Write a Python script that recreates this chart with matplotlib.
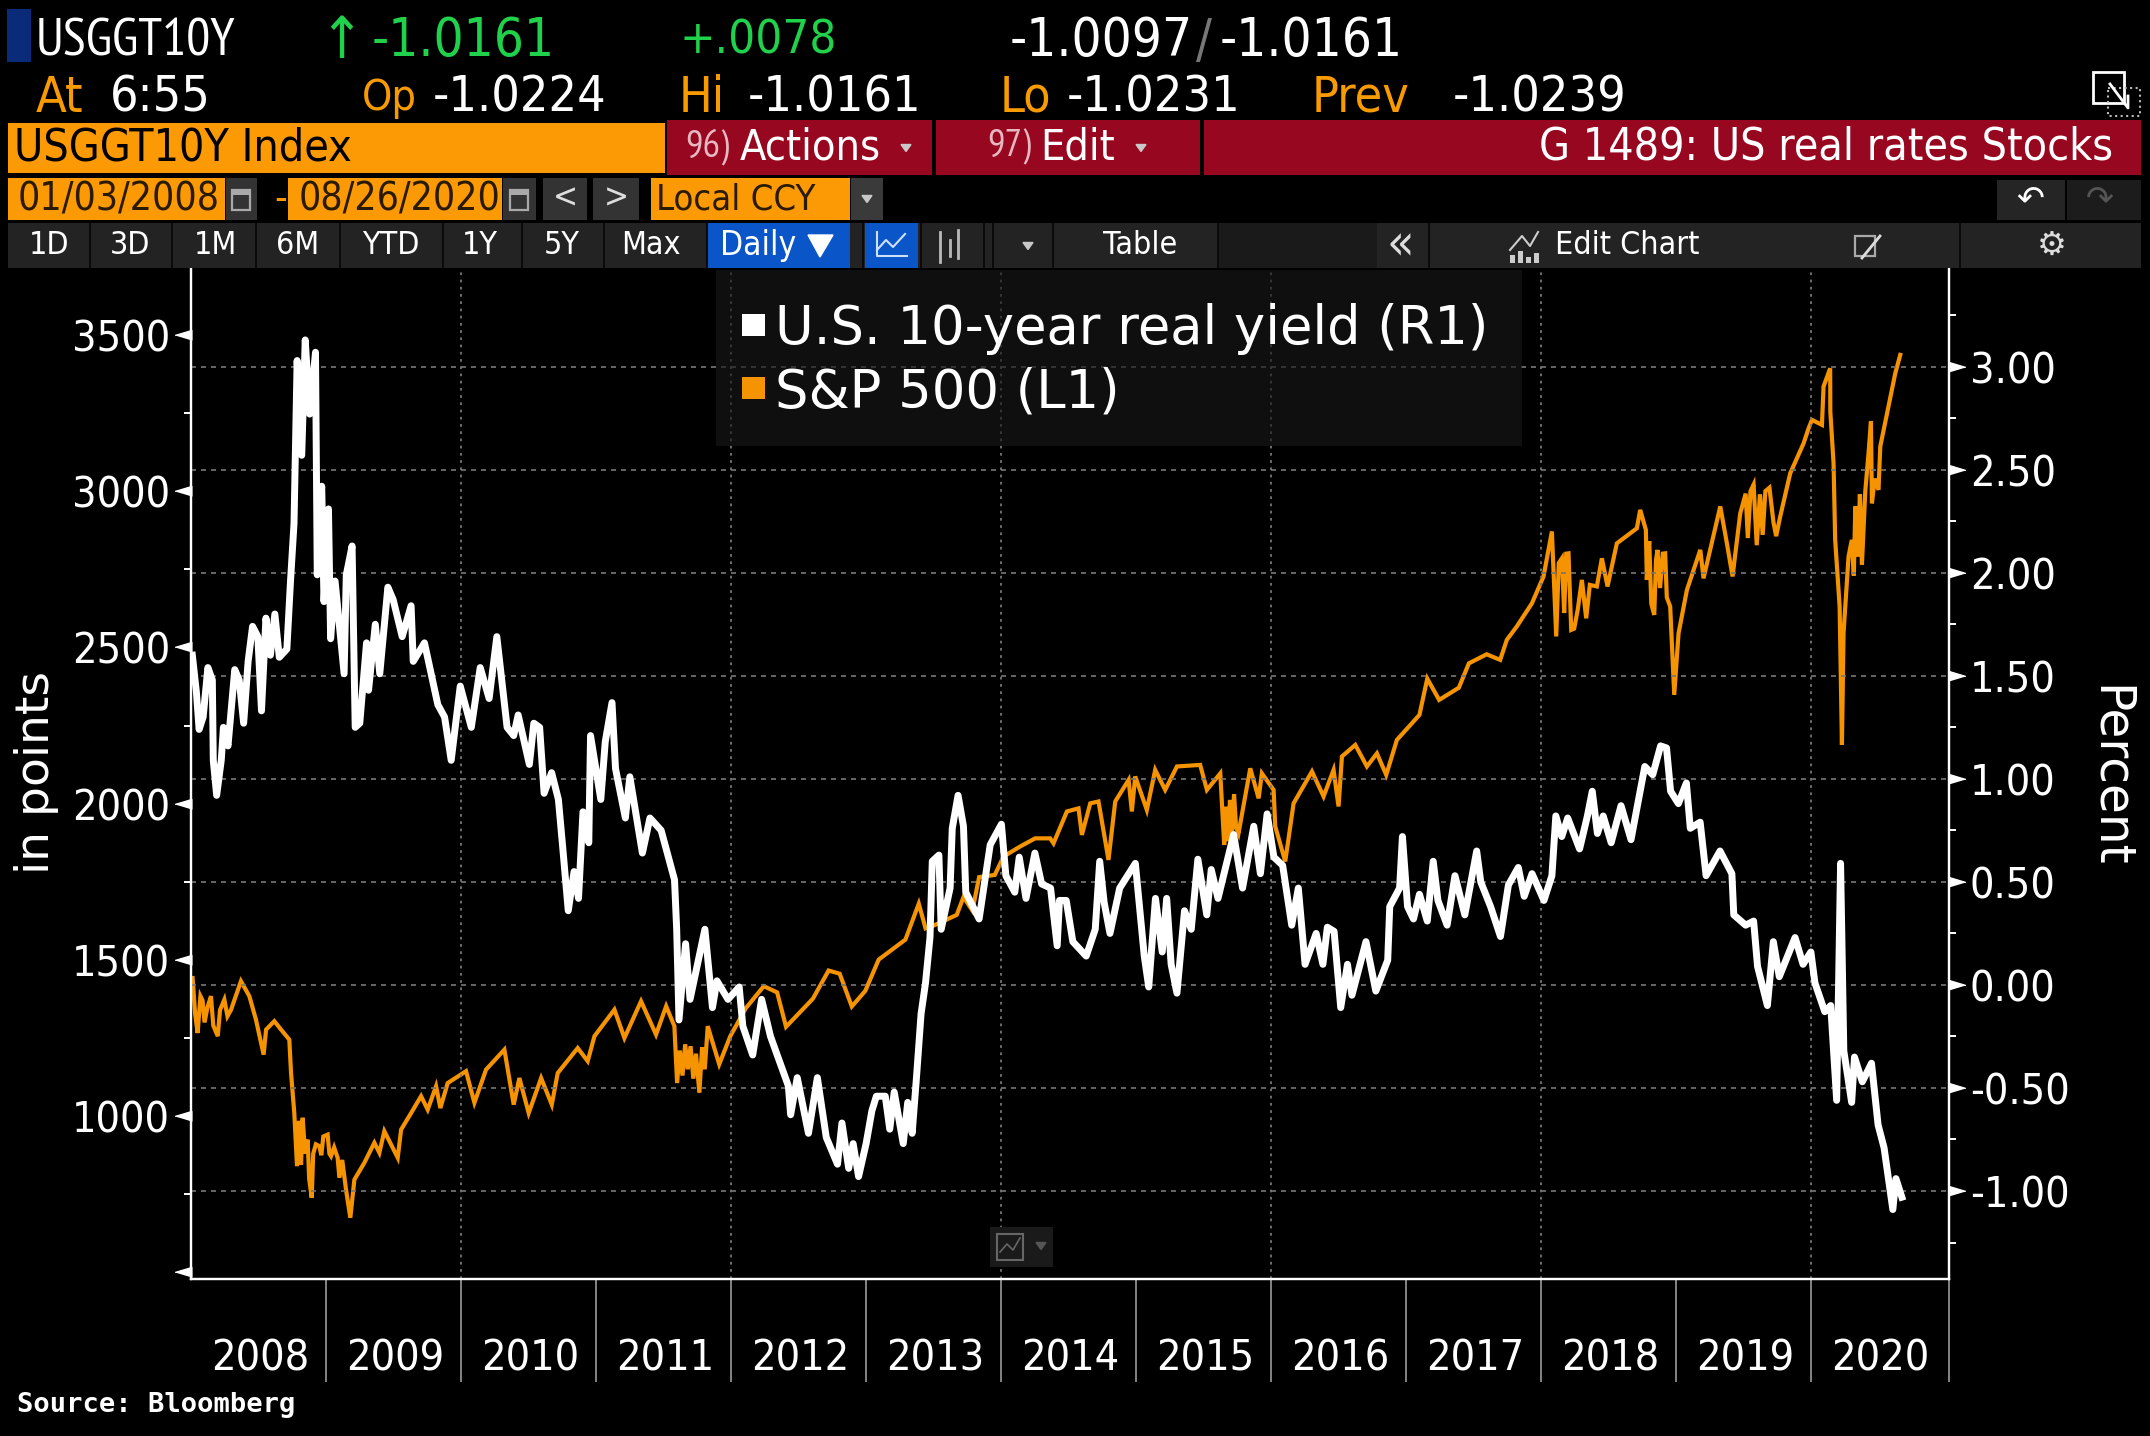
import matplotlib
matplotlib.use('Agg')
import matplotlib.pyplot as plt
from matplotlib.patches import Rectangle

# Values
yield_t = [2008.01,2008.04,2008.06,2008.09,2008.125,2008.158,2008.165,2008.19,2008.224,2008.24,2008.274,2008.324,2008.357,2008.39,2008.423,2008.456,2008.495,2008.522,2008.555,2008.588,2008.621,2008.654,2008.71,2008.737,2008.763,2008.786,2008.82,2008.846,2008.879,2008.922,2008.935,2008.968,2008.985,
           2009.018,2009.034,2009.067,2009.134,2009.15,2009.193,2009.216,2009.25,2009.30,2009.315,2009.365,2009.398,2009.458,2009.497,2009.564,2009.63,2009.646,2009.729,2009.828,2009.878,2009.927,2009.994,
           2010.076,2010.142,2010.208,2010.265,2010.341,2010.39,2010.423,2010.506,2010.539,2010.582,2010.615,2010.671,2010.721,2010.754,2010.794,2010.837,2010.87,2010.903,2010.946,2010.959,
           2011.035,2011.068,2011.118,2011.144,2011.217,2011.25,2011.343,2011.399,2011.482,2011.581,2011.597,2011.614,2011.663,2011.696,2011.806,2011.862,2011.895,2011.977,
           2012.06,2012.087,2012.16,2012.226,2012.292,2012.424,2012.441,2012.49,2012.573,2012.639,2012.705,2012.788,2012.821,2012.871,2012.904,2012.944,
           2013.00,2013.043,2013.076,2013.142,2013.175,2013.208,2013.275,2013.308,2013.341,2013.374,2013.407,2013.44,2013.473,2013.49,2013.539,2013.556,2013.622,2013.638,2013.681,2013.721,2013.738,2013.837,2013.919,
           2014.002,2014.035,2014.101,2014.134,2014.184,2014.25,2014.30,2014.366,2014.415,2014.432,2014.482,2014.531,2014.63,2014.697,2014.73,2014.763,2014.806,2014.878,2014.994,
           2015.06,2015.093,2015.143,2015.193,2015.226,2015.259,2015.302,2015.358,2015.408,2015.457,2015.523,2015.556,2015.606,2015.722,2015.788,2015.871,2015.92,2015.97,
           2016.02,2016.085,2016.152,2016.201,2016.251,2016.333,2016.383,2016.416,2016.466,2016.515,2016.565,2016.598,2016.702,2016.775,2016.863,2016.878,2016.951,2016.972,
           2017.01,2017.054,2017.098,2017.156,2017.2,2017.235,2017.303,2017.361,2017.434,2017.522,2017.552,2017.625,2017.698,2017.757,2017.83,2017.874,2017.932,
           2018.02,2018.079,2018.108,2018.152,2018.196,2018.284,2018.342,2018.378,2018.416,2018.459,2018.518,2018.591,2018.665,2018.767,2018.826,2018.884,2018.928,2018.958,
           2019.016,2019.075,2019.104,2019.177,2019.221,2019.324,2019.412,2019.426,2019.514,2019.573,2019.602,2019.675,2019.719,2019.763,2019.88,2019.939,2019.997,
           2020.027,2020.1,2020.144,2020.188,2020.217,2020.241,2020.299,2020.32,2020.378,2020.446,2020.495,2020.539,2020.604,2020.627,2020.671]
yield_v = [1.60,1.42,1.24,1.30,1.54,1.48,1.09,0.92,1.09,1.25,1.16,1.53,1.48,1.27,1.57,1.74,1.69,1.33,1.78,1.60,1.80,1.59,1.63,1.96,2.24,3.03,2.57,3.13,2.77,3.07,1.99,2.42,1.86,
           2.31,1.68,1.96,1.51,1.99,2.13,1.25,1.27,1.66,1.43,1.75,1.51,1.93,1.87,1.69,1.84,1.57,1.66,1.36,1.30,1.09,1.45,
           1.25,1.54,1.39,1.69,1.25,1.21,1.31,1.07,1.27,1.25,0.93,1.03,0.90,0.66,0.36,0.55,0.42,0.84,0.69,1.21,
           0.90,1.18,1.37,1.05,0.81,1.01,0.64,0.81,0.75,0.51,0.27,-0.17,0.20,-0.07,0.27,-0.11,0.02,-0.07,
           -0.01,-0.20,-0.34,-0.07,-0.25,-0.49,-0.63,-0.45,-0.72,-0.45,-0.74,-0.87,-0.67,-0.89,-0.77,-0.93,
           -0.77,-0.61,-0.54,-0.54,-0.70,-0.52,-0.77,-0.57,-0.72,-0.44,-0.14,0.01,0.23,0.60,0.63,0.27,0.47,0.76,0.92,0.77,0.45,0.32,0.68,
           0.78,0.53,0.45,0.62,0.42,0.64,0.49,0.47,0.19,0.41,0.41,0.21,0.14,0.27,0.60,0.40,0.25,0.47,0.59,
           0.14,-0.01,0.42,0.16,0.42,0.10,-0.04,0.36,0.27,0.61,0.34,0.56,0.42,0.73,0.47,0.77,0.54,0.83,
           0.62,0.58,0.29,0.47,0.10,0.25,0.10,0.28,0.26,-0.11,0.10,-0.05,0.21,-0.03,0.12,0.38,0.47,0.72,
           0.38,0.32,0.44,0.31,0.60,0.41,0.29,0.53,0.34,0.65,0.50,0.38,0.235,0.485,0.57,0.43,0.54,
           0.41,0.53,0.82,0.72,0.81,0.66,0.82,0.94,0.735,0.82,0.69,0.87,0.705,1.06,1.02,1.16,1.15,0.94,
           0.88,0.98,0.76,0.79,0.53,0.65,0.54,0.34,0.29,0.31,0.09,-0.10,0.21,0.04,0.23,0.10,0.16,
           0.01,-0.13,-0.10,-0.56,0.59,-0.32,-0.57,-0.35,-0.47,-0.38,-0.68,-0.79,-1.09,-0.94,-1.03]

spx_t = [2008.012,2008.03,2008.049,2008.07,2008.086,2008.10,2008.123,2008.148,2008.165,2008.198,2008.215,2008.247,2008.27,2008.296,2008.37,2008.432,2008.481,2008.538,2008.556,2008.617,2008.667,2008.728,2008.741,2008.765,2008.785,2008.80,2008.815,2008.827,2008.845,2008.864,2008.875,2008.894,2008.905,2008.925,2008.951,2008.965,2008.98,
         2009.012,2009.025,2009.037,2009.06,2009.086,2009.099,2009.12,2009.148,2009.18,2009.21,2009.284,2009.358,2009.395,2009.432,2009.531,2009.556,2009.63,2009.704,2009.753,2009.815,2009.847,2009.901,
         2010.037,2010.099,2010.185,2010.321,2010.39,2010.432,2010.501,2010.593,2010.672,2010.716,2010.864,2010.938,2010.988,
         2011.136,2011.21,2011.333,2011.444,2011.519,2011.58,2011.60,2011.62,2011.64,2011.66,2011.679,2011.70,2011.72,2011.74,2011.765,2011.785,2011.805,2011.827,2011.912,2011.994,
         2012.11,2012.242,2012.341,2012.407,2012.606,2012.722,2012.804,2012.894,2012.994,
         2013.093,2013.291,2013.39,2013.44,2013.49,2013.671,2013.721,2013.787,2013.837,2013.953,
         2014.018,2014.141,2014.252,2014.363,2014.388,2014.487,2014.573,2014.598,2014.66,2014.721,2014.795,2014.845,2014.944,2014.968,2014.993,
         2015.079,2015.141,2015.215,2015.302,2015.474,2015.524,2015.623,2015.652,2015.665,2015.68,2015.695,2015.709,2015.725,2015.74,2015.758,2015.845,2015.907,2015.931,
         2016.018,2016.03,2016.104,2016.166,2016.302,2016.388,2016.462,2016.499,2016.524,2016.623,2016.709,2016.783,2016.852,2016.931,
         2017.098,2017.156,2017.244,2017.39,2017.464,2017.596,2017.696,2017.745,2017.819,2017.931,
         2018.017,2018.079,2018.111,2018.13,2018.153,2018.17,2018.185,2018.202,2018.222,2018.244,2018.27,2018.301,2018.333,2018.36,2018.412,2018.449,2018.491,2018.56,2018.708,2018.733,2018.775,2018.782,2018.80,2018.815,2018.837,2018.85,2018.861,2018.88,2018.90,2018.918,2018.93,2018.955,2018.985,
         2019.017,2019.079,2019.178,2019.202,2019.326,2019.375,2019.417,2019.474,2019.514,2019.53,2019.55,2019.573,2019.596,2019.62,2019.64,2019.66,2019.69,2019.72,2019.74,2019.77,2019.844,2019.943,2019.98,
         2020.005,2020.079,2020.091,2020.14,2020.141,2020.165,2020.177,2020.21,2020.227,2020.239,2020.276,2020.30,2020.315,2020.326,2020.345,2020.36,2020.375,2020.40,2020.424,2020.442,2020.449,2020.47,2020.498,2020.511,2020.572,2020.622,2020.659]
spx_v = [1442,1330,1266,1384,1370,1300,1350,1384,1290,1256,1340,1373,1320,1340,1432,1384,1309,1197,1277,1304,1277,1245,1138,1010,840,985,845,995,880,925,800,739,880,910,904,875,935,
         941,880,872,900,867,803,860,765,675,797,851,915,883,952,867,957,1010,1064,1021,1096,1026,1106,
         1144,1043,1149,1213,1037,1122,1010,1122,1037,1138,1218,1176,1256,
         1341,1250,1368,1261,1352,1288,1106,1210,1130,1230,1150,1224,1120,1200,1075,1220,1150,1288,1166,1256,
         1346,1416,1396,1286,1376,1466,1456,1351,1401,
         1501,1565,1680,1601,1608,1644,1701,1658,1765,1772,
         1831,1863,1889,1889,1873,1975,1985,1900,2001,2007,1820,2007,2076,1975,2087,
         1980,2108,2044,2119,2124,2044,2097,1868,1990,1880,2012,1900,2030,1925,1905,2113,2017,2097,
         2044,1927,1815,2001,2103,2023,2108,1991,2151,2188,2119,2161,2092,2204,
         2284,2400,2332,2371,2449,2478,2460,2524,2567,2641,
         2727,2871,2535,2770,2785,2610,2800,2801,2556,2560,2620,2716,2593,2700,2695,2785,2695,2833,2881,2940,2876,2716,2840,2640,2604,2780,2812,2690,2800,2801,2660,2631,2348,
         2545,2684,2812,2721,2951,2833,2727,2929,2992,2850,3000,3021,2827,2990,2860,3000,3011,2900,2856,2919,3057,3153,3201,
         3228,3212,3335,3393,3255,3089,2844,2631,2188,2546,2791,2844,2730,2951,2790,2990,2764,3000,3121,3223,2961,3040,3004,3143,3271,3377,3436]

left_ticks = [500, 1000, 1500, 2000, 2500, 3000, 3500]
left_minor = [750, 1250, 1750, 2250, 2750, 3250]
right_ticks = [-1.0, -0.5, 0.0, 0.5, 1.0, 1.5, 2.0, 2.5, 3.0]
right_minor = [-1.25, -0.75, -0.25, 0.25, 0.75, 1.25, 1.75, 2.25, 2.75, 3.25]
year_labels = [str(y) for y in range(2008, 2021)]
year_ticks = list(range(2009, 2021))
grid_years = [2010, 2012, 2014, 2016, 2018, 2020]

ORANGE = '#f59300'
NARROW = ['PT Sans Narrow', 'DejaVu Sans']

fig = plt.figure(figsize=(21.5, 14.36), dpi=100, facecolor='black')

# Chart
ax = fig.add_axes([191/2150, 1-1279/1436, 1758/2150, 1011/1436], facecolor='black')
ax.set_xlim(2008, 2021.02)
ax.set_ylim(479, 3714)
ax2 = ax.twinx()
ax2.set_ylim(-1.427, 3.479)
ax2.patch.set_visible(False)

ax.spines['top'].set_visible(False)
ax2.spines['top'].set_visible(False)
for a in [ax, ax2]:
    for side in ['left', 'right', 'bottom']:
        a.spines[side].set_color('white')
        a.spines[side].set_linewidth(1.6)

for v in right_ticks:
    ax2.axhline(v, color='#777777', lw=1.2, ls=(0, (3, 3)), zorder=1)
for y in grid_years:
    ax2.axvline(y, color='#777777', lw=1.3, ls=(0, (1.5, 2.5)), zorder=1)

ax.plot(spx_t, spx_v, color=ORANGE, lw=3, solid_joinstyle='miter', zorder=2)
ax2.plot(yield_t, yield_v, color='white', lw=5, solid_joinstyle='round', zorder=3)

# year ticks below the axis, labels centred in between
ax.set_xticks(year_ticks + [2021.02])
ax.set_xticklabels([])
ax.tick_params(axis='x', which='major', length=74, width=1.2, color='#9a9a9a')
ax.set_xticks([y + 0.51 for y in range(2008, 2021)], minor=True)
ax.set_xticklabels(year_labels, minor=True, family='DejaVu Sans', stretch='condensed', fontsize=31, color='white')
ax.tick_params(axis='x', which='minor', length=0, pad=42)

ax.set_yticks(left_ticks)
ax.set_yticklabels([str(v) for v in left_ticks])
ax.set_yticks(left_minor, minor=True)
ax.tick_params(axis='y', which='major', length=13, width=0, pad=2, labelsize=31, labelcolor='white')
ax.tick_params(axis='y', which='minor', length=5, width=1.4, color='white')
for lab in ax.get_yticklabels():
    lab.set_stretch('condensed')
ax.get_yticklabels()[0].set_visible(False)

ax2.set_yticks(right_ticks)
ax2.set_yticklabels(['%.2f' % v for v in right_ticks])
ax2.set_yticks(right_minor, minor=True)
ax2.tick_params(axis='y', which='major', length=13, width=0, pad=2, labelsize=31, labelcolor='white')
ax2.tick_params(axis='y', which='minor', length=5, width=1.4, color='white')
for lab in ax2.get_yticklabels():
    lab.set_stretch('condensed')

# arrow shaped major ticks
for v in left_ticks:
    ax.plot([-0.0048], [v], marker=[(-1, 0), (1, 0.6), (1, -0.6)], ms=12, color='white',
            transform=ax.get_yaxis_transform(), clip_on=False, zorder=5)
for v in right_ticks:
    ax2.plot([1.0048], [v], marker=[(1, 0), (-1, 0.6), (-1, -0.6)], ms=12, color='white',
             transform=ax2.get_yaxis_transform(), clip_on=False, zorder=5)

# Everything around the chart is drawn in pixel coordinates
ui = fig.add_axes([0, 0, 1, 1], facecolor='none')
ui.set_xlim(0, 2150)
ui.set_ylim(1436, 0)
ui.axis('off')


def box(x0, y0, x1, y1, color, alpha=1.0):
    ui.add_patch(Rectangle((x0, y0), x1 - x0, y1 - y0, facecolor=color, edgecolor='none', alpha=alpha))


def txt(x, y, s, color='white', size=38, ha='left', family='DejaVu Sans', stretch='condensed', **kw):
    return ui.text(x, y, s, color=color, fontsize=size, ha=ha, va='center', family=family, stretch=stretch, **kw)


def tri(x, y, color='#c8c8c8', w=5, h=7):
    ui.fill([x - w, x + w, x], [y - h/2, y - h/2, y + h/2], color=color)


# quote lines
box(7, 9, 31, 62, '#0a2a7a')
txt(36, 42, 'USGGT10Y', family=NARROW, size=38.5)
txt(341, 42, '↑', color='#1fd14b', size=42, ha='center')
txt(372, 41, '-1.0161', color='#1fd14b')
txt(679, 41, '+.0078', color='#1fd14b', size=34)
txt(1010, 41, '-1.0097')
txt(1196, 42, '/', color='#777777')
txt(1220, 41, '-1.0161')
txt(36, 98, 'At', color='#f89b00', size=36)
txt(110, 98, '6:55', size=36)
txt(362, 98, 'Op', color='#f89b00', size=31)
txt(433, 98, '-1.0224', size=36)
txt(679, 98, 'Hi', color='#f89b00', size=36)
txt(748, 98, '-1.0161', size=36)
txt(1000, 98, 'Lo', color='#f89b00', size=36)
txt(1067, 98, '-1.0231', size=36)
txt(1312, 98, 'Prev', color='#f89b00', size=36)
txt(1453, 98, '-1.0239', size=36)
ui.add_patch(Rectangle((2093, 72), 31, 31, facecolor='none', edgecolor='white', lw=2))
ui.add_patch(Rectangle((2108, 88), 32, 28, facecolor='none', edgecolor='#bbbbbb', lw=1.5, ls=':'))
ui.plot([2110, 2128, 2128], [84, 108, 96], color='white', lw=2)

# title bar
box(8, 123, 665, 173, '#fb9a05')
txt(14, 148, 'USGGT10Y Index', color='black', size=32)
box(667, 120, 932, 175, '#97071f')
txt(685, 147, '96)', color='#e8b8c0', size=28, family=NARROW)
txt(740, 147, 'Actions', size=31)
tri(906, 148)
box(936, 120, 1200, 175, '#97071f')
txt(987, 147, '97)', color='#e8b8c0', size=28, family=NARROW)
txt(1040, 147, 'Edit', size=31)
tri(1141, 148)
box(1204, 120, 2141, 175, '#97071f')
txt(2113, 147, 'G 1489: US real rates Stocks', size=32, ha='right')

# date row
box(8, 178, 225, 220, '#fb9a05')
txt(18, 199, '01/03/2008', color='#2a1a00', size=28)
box(226, 178, 257, 220, '#333333')
txt(274, 199, '-', color='#fb9a05', size=28)
box(288, 178, 502, 220, '#fb9a05')
txt(299, 199, '08/26/2020', color='#2a1a00', size=28)
box(503, 178, 536, 220, '#333333')
for x0 in [232, 510]:
    ui.add_patch(Rectangle((x0, 190), 18, 20, facecolor='none', edgecolor='#aaaaaa', lw=1.6))
    box(x0, 190, x0 + 18, 195, '#aaaaaa')
box(543, 178, 587, 220, '#333333')
txt(565, 198, '<', size=24, ha='center', color='#dddddd')
box(593, 178, 639, 220, '#333333')
txt(616, 198, '>', size=24, ha='center', color='#dddddd')
box(651, 178, 850, 220, '#fb9a05')
txt(656, 199, 'Local CCY', color='#2a1a00', size=26)
box(851, 178, 883, 220, '#3a3a3a')
tri(867, 199)
box(1997, 180, 2065, 220, '#252525')
box(2067, 180, 2141, 220, '#1c1c1c')
txt(2030, 199, '↶', size=24, ha='center', stretch='normal')
txt(2100, 199, '↷', size=24, ha='center', color='#555555', stretch='normal')

# tab row
box(8, 223, 2141, 268, '#232323')
for x0 in [89, 171, 255, 339, 442, 521, 603, 706, 862, 920, 983, 992, 1052, 1217, 1428, 1959]:
    box(x0, 223, x0 + 2, 268, '#0a0a0a')
box(1219, 223, 1377, 268, '#1a1a1a')
tab_names = ['1D', '3D', '1M', '6M', 'YTD', '1Y', '5Y', 'Max']
tab_pos = [49, 130, 215, 298, 391, 480, 562, 651]
for name, x in zip(tab_names, tab_pos):
    txt(x, 245, name, size=23, ha='center')
box(708, 223, 850, 268, '#0a55c8')
txt(720, 245, 'Daily', size=24)
ui.fill([808, 833, 820], [235, 235, 257], color='white')
box(865, 223, 918, 268, '#0a55c8')
ui.plot([877, 877, 907], [232, 256, 256], color='#cfe0ff', lw=1.5)
ui.plot([877, 886, 893, 905], [250, 240, 247, 234], color='#cfe0ff', lw=1.5)
for x0, y0, y1 in [(940, 232, 262), (950, 240, 256), (958, 230, 258)]:
    ui.plot([x0, x0], [y0, y1], color='#bbbbbb', lw=2)
tri(1028, 246)
txt(1140, 245, 'Table', size=23, ha='center')
txt(1400, 245, '«', size=36, ha='center', color='#dddddd')
ui.plot([1510, 1522, 1530, 1538], [250, 236, 246, 232], color='#cccccc', lw=1.5)
for x0, h in zip([1510, 1518, 1526, 1534], [8, 12, 6, 10]):
    box(x0, 263 - h, x0 + 5, 263, '#cccccc')
txt(1555, 245, 'Edit Chart', size=23)
ui.add_patch(Rectangle((1855, 236), 20, 20, facecolor='none', edgecolor='#aaaaaa', lw=1.6))
ui.plot([1862, 1880], [258, 236], color='#dddddd', lw=2)
txt(2052, 245, '⚙', size=24, ha='center', color='#dddddd', stretch='normal')

# legend
box(716, 270, 1522, 446, '#181818', alpha=0.65)
box(742, 314, 765, 336, 'white')
box(742, 377, 765, 399, ORANGE)
txt(775, 329, 'U.S. 10-year real yield (R1)', size=38, stretch='normal')
txt(775, 392, 'S&P 500 (L1)', size=38, stretch='normal')

# axis titles
txt(37, 772, 'in points', size=34, ha='center', stretch='normal', rotation=90)
txt(2110, 776, 'Percent', size=35, ha='center', stretch='normal', rotation=270)

# small chart button
box(990, 1227, 1053, 1267, '#1a1a1a')
ui.add_patch(Rectangle((997, 1234), 26, 26, facecolor='none', edgecolor='#666666', lw=1.5))
ui.plot([1000, 1007, 1013, 1020], [1252, 1244, 1250, 1238], color='#666666', lw=1.2)
tri(1041, 1246, color='#555555')

txt(17, 1405, 'Source: Bloomberg', size=19.5, family='DejaVu Sans Mono', weight='bold', stretch='normal')

fig.savefig('out.png', dpi=100, facecolor='black')
